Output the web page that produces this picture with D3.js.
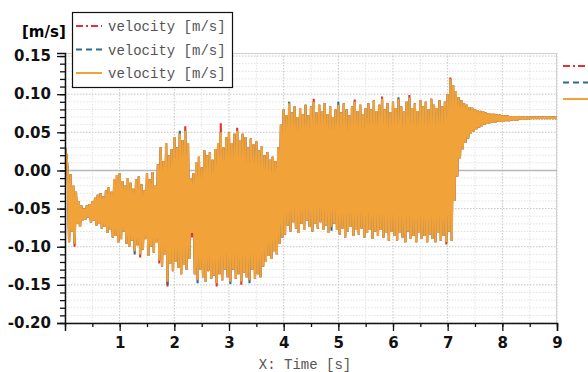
<!DOCTYPE html>
<html lang="en">
<head>
<meta charset="UTF-8">
<title>velocity</title>
<script src="https://d3js.org/d3.v7.min.js"></script>
<style>
  body { margin: 0; background: #fff; }
  .tick text { font-family: "DejaVu Sans", Verdana, sans-serif; font-weight: bold; font-size: 15px; fill: #111; }
  .mono { font-family: "Liberation Mono", "DejaVu Sans Mono", monospace; fill: #555; }
</style>
</head>
<body>
<div id="chart"></div>
<script>
// sample step of the envelope readings [s]
var step = 0.05;

// upper extreme of the signal in each 0.05 s bin, t = 0 .. 9
var hiVals = [
  0.030, 0.000, -0.005, -0.020, -0.028, -0.040, -0.046, -0.050, -0.046, -0.044,
  -0.040, -0.036, -0.032, -0.030, -0.034, -0.026, -0.022, -0.028, -0.012, -0.006,
  -0.004, -0.014, -0.020, -0.010, -0.016, -0.024, -0.012, -0.008, -0.018, -0.026,
  -0.004, -0.012, -0.002, -0.020, 0.008, 0.030, 0.012, 0.036, 0.020, 0.028,
  0.044, 0.030, 0.048, 0.040, 0.052, 0.036, -0.010, -0.004, 0.010, 0.018,
  0.004, 0.026, 0.020, 0.024, 0.014, 0.028, 0.036, 0.050, 0.030, 0.044,
  0.050, 0.036, 0.048, 0.052, 0.040, 0.048, 0.044, 0.030, 0.042, 0.034,
  0.038, 0.026, 0.032, 0.020, 0.024, 0.014, 0.018, 0.012, 0.030, 0.060,
  0.080, 0.072, 0.088, 0.076, 0.084, 0.070, 0.082, 0.074, 0.086, 0.072,
  0.084, 0.090, 0.076, 0.086, 0.078, 0.088, 0.074, 0.084, 0.070, 0.080,
  0.086, 0.076, 0.088, 0.080, 0.072, 0.084, 0.090, 0.078, 0.086, 0.074,
  0.082, 0.088, 0.080, 0.092, 0.078, 0.086, 0.094, 0.080, 0.088, 0.076,
  0.090, 0.082, 0.094, 0.084, 0.078, 0.090, 0.096, 0.082, 0.088, 0.078,
  0.092, 0.084, 0.090, 0.080, 0.094, 0.086, 0.082, 0.092, 0.084, 0.090,
  0.100, 0.120, 0.112, 0.104, 0.096, 0.092, 0.088, 0.086, 0.083, 0.082,
  0.080, 0.079, 0.078, 0.077, 0.076, 0.075, 0.074, 0.074, 0.073, 0.073,
  0.072, 0.072, 0.072, 0.071, 0.071, 0.071, 0.071, 0.070, 0.070, 0.070,
  0.070, 0.070, 0.070, 0.070, 0.070, 0.070, 0.070, 0.070, 0.070, 0.070,
  0.070
];

// lower extreme of the signal in each 0.05 s bin, t = 0 .. 9
var loVals = [
  0.020, -0.094, -0.080, -0.096, -0.070, -0.074, -0.066, -0.064, -0.062, -0.068,
  -0.066, -0.072, -0.070, -0.076, -0.074, -0.082, -0.078, -0.088, -0.086, -0.094,
  -0.090, -0.080, -0.096, -0.100, -0.092, -0.106, -0.098, -0.110, -0.104, -0.090,
  -0.112, -0.100, -0.108, -0.094, -0.118, -0.126, -0.110, -0.146, -0.122, -0.132,
  -0.120, -0.128, -0.136, -0.124, -0.130, -0.116, -0.082, -0.136, -0.144, -0.130,
  -0.140, -0.146, -0.132, -0.142, -0.138, -0.148, -0.136, -0.144, -0.130, -0.140,
  -0.146, -0.130, -0.142, -0.136, -0.146, -0.134, -0.140, -0.144, -0.130, -0.142,
  -0.136, -0.140, -0.126, -0.120, -0.112, -0.116, -0.106, -0.110, -0.096, -0.088,
  -0.084, -0.072, -0.080, -0.068, -0.076, -0.082, -0.070, -0.078, -0.066, -0.074,
  -0.080, -0.070, -0.076, -0.068, -0.078, -0.072, -0.082, -0.074, -0.070, -0.078,
  -0.084, -0.076, -0.088, -0.080, -0.074, -0.086, -0.078, -0.084, -0.076, -0.088,
  -0.082, -0.078, -0.090, -0.080, -0.086, -0.078, -0.088, -0.082, -0.092, -0.080,
  -0.086, -0.092, -0.082, -0.088, -0.094, -0.080, -0.090, -0.086, -0.094, -0.082,
  -0.090, -0.086, -0.094, -0.084, -0.090, -0.094, -0.082, -0.092, -0.086, -0.094,
  -0.080, -0.092, -0.040, -0.008, 0.016, 0.028, 0.036, 0.042, 0.048, 0.051,
  0.054, 0.056, 0.058, 0.060, 0.061, 0.062, 0.063, 0.063, 0.064, 0.064,
  0.064, 0.065, 0.065, 0.066, 0.066, 0.066, 0.067, 0.067, 0.067, 0.067,
  0.068, 0.068, 0.068, 0.068, 0.068, 0.068, 0.068, 0.068, 0.068, 0.068,
  0.068
];

// where the red and blue runs poke out past the orange one: [time, value]
var redTips = [[0.15, -0.100], [1.35, -0.114], [1.70, -0.122], [1.85, -0.152], [2.20, 0.058],
  [2.30, -0.088], [2.75, -0.152], [2.85, 0.062], [3.15, 0.056], [3.20, -0.150], [4.55, 0.094],
  [5.30, 0.093], [5.80, 0.097], [6.30, 0.099], [6.95, -0.097], [7.05, 0.122]];
var blueTips = [[0.90, -0.016], [1.25, -0.110], [1.45, -0.030], [1.85, -0.150], [2.10, 0.052],
  [2.40, -0.148], [3.00, -0.149], [3.35, -0.148], [4.10, 0.090], [4.85, -0.079], [5.00, 0.090],
  [6.10, 0.096]];

var seriesNames = ["velocity [m/s]", "velocity [m/s]", "velocity [m/s]"];
var seriesColors = ["#e5312d", "#2c6c8e", "#f1a238"];
var seriesDash = ["7,3,2,3", "6,4", null];

var yMajor = [-0.20, -0.15, -0.10, -0.05, 0.00, 0.05, 0.10, 0.15];
var xMajor = [1, 2, 3, 4, 5, 6, 7, 8, 9];

var W = 588, H = 372;
var margin = {top: 53, right: 31, bottom: 49, left: 65},
  width = W - margin.left - margin.right,
  height = H - margin.top - margin.bottom;

var svg = d3.select("#chart").append("svg")
  .attr("width", W).attr("height", H);
var g = svg.append("g")
  .attr("transform", "translate(" + margin.left + "," + margin.top + ")");

var x = d3.scaleLinear().domain([0, 9]).range([0, width]);
var y = d3.scaleLinear().domain([-0.2, 0.154]).range([height, 0]);

var xMinor = d3.range(0, 9.001, 0.5);
var yMinor = d3.range(-20, 16).map(function(d) { return d / 100; });

// grid: light dotted minor lines, a bit darker on majors
g.append("g").selectAll("line").data(yMinor).enter().append("line")
  .attr("x1", 0).attr("x2", width)
  .attr("y1", function(d) { return y(d); }).attr("y2", function(d) { return y(d); })
  .attr("stroke", function(d) { return Math.abs(d * 20 - Math.round(d * 20)) < 1e-6 ? "#c4c4c4" : "#e2e2e2"; })
  .attr("stroke-dasharray", "1.5,1.5");
g.append("g").selectAll("line").data(xMinor).enter().append("line")
  .attr("y1", 0).attr("y2", height)
  .attr("x1", function(d) { return x(d); }).attr("x2", function(d) { return x(d); })
  .attr("stroke", function(d) { return d % 1 === 0 ? "#c4c4c4" : "#e2e2e2"; })
  .attr("stroke-dasharray", "1.5,1.5");

// frame top / right
g.append("path")
  .attr("d", "M0,0.5H" + (width - 0.5) + "V" + height)
  .attr("fill", "none").attr("stroke", "#cfcfcf");

// zero line
g.append("line")
  .attr("x1", 0).attr("x2", width).attr("y1", y(0)).attr("y2", y(0))
  .attr("stroke", "#b8b8b8").attr("stroke-width", 1.5);

// build each run as a zigzag through the bin extremes
function buildRun(tips) {
  var hi = hiVals.slice(), lo = loVals.slice();
  (tips || []).forEach(function(p) {
    var i = Math.round(p[0] / step);
    if (p[1] >= (hi[i] + lo[i]) / 2) hi[i] = p[1]; else lo[i] = p[1];
  });
  var pts = [];
  hi.forEach(function(v, i) {
    pts.push([i * step, v]);
    pts.push([i * step + step / 2, lo[i]]);
  });
  return pts;
}
var runs = [buildRun(redTips), buildRun(blueTips), buildRun(null)];

svg.append("clipPath").attr("id", "plotclip")
  .append("rect").attr("width", width).attr("height", height);

var line = d3.line()
  .x(function(d) { return x(d[0]); })
  .y(function(d) { return y(d[1]); });

var plot = g.append("g").attr("clip-path", "url(#plotclip)");
runs.forEach(function(pts, k) {
  plot.append("path")
    .datum(pts)
    .attr("d", line)
    .attr("fill", "none")
    .attr("stroke", seriesColors[k])
    .attr("stroke-width", k === 2 ? 2.3 : 2.1)
    .attr("stroke-linejoin", "bevel");
});

// axes
var yAxis = g.append("g").call(d3.axisLeft(y).tickValues(yMajor).tickSize(8).tickPadding(6)
  .tickFormat(d3.format(".2f")));
g.append("g").call(d3.axisLeft(y).tickValues(yMinor).tickSize(5).tickFormat(""))
  .select(".domain").remove();
var xAxis = g.append("g").attr("transform", "translate(0," + height + ")")
  .call(d3.axisBottom(x).tickValues(xMajor).tickSize(8).tickPadding(6).tickFormat(d3.format("d")));
g.append("g").attr("transform", "translate(0," + height + ")")
  .call(d3.axisBottom(x).tickValues(xMinor).tickSize(4).tickFormat(""))
  .select(".domain").remove();
g.selectAll(".domain").attr("stroke", "#111").attr("stroke-width", 1.5);
g.selectAll(".tick line").attr("stroke", "#111").attr("stroke-width", 1.3);
yAxis.selectAll(".tick text").text(function(d) { return d3.format(".2f")(d).replace("−", "-"); });

// titles
svg.append("text")
  .attr("x", 22).attr("y", 37)
  .style("font-family", "DejaVu Sans, Verdana, sans-serif")
  .style("font-weight", "bold").style("font-size", "15px")
  .text("[m/s]");
svg.append("text").attr("class", "mono")
  .attr("x", margin.left + width / 2 - 6).attr("y", 369)
  .attr("text-anchor", "middle")
  .style("font-size", "14px")
  .text("X: Time [s]");

// legend box
var lg = svg.append("g").attr("transform", "translate(72,12)");
lg.append("rect").attr("x", 0.5).attr("y", 0.5).attr("width", 160).attr("height", 75)
  .attr("fill", "#fff").attr("stroke", "#111").attr("stroke-width", 1.2);
seriesNames.forEach(function(name, k) {
  var yy = 14 + k * 23.5;
  lg.append("line").attr("x1", 4).attr("x2", 30).attr("y1", yy).attr("y2", yy)
    .attr("stroke", seriesColors[k]).attr("stroke-width", 2)
    .attr("stroke-dasharray", seriesDash[k]);
  lg.append("text").attr("class", "mono")
    .attr("x", 36).attr("y", yy + 5)
    .style("font-size", "14px")
    .text(name);
});

// second legend, cut off at the right edge
seriesNames.forEach(function(name, k) {
  var yy = 66 + k * 16.5;
  svg.append("line").attr("x1", 563).attr("x2", 600).attr("y1", yy).attr("y2", yy)
    .attr("stroke", seriesColors[k]).attr("stroke-width", 2)
    .attr("stroke-dasharray", seriesDash[k]);
});
</script>
</body>
</html>
